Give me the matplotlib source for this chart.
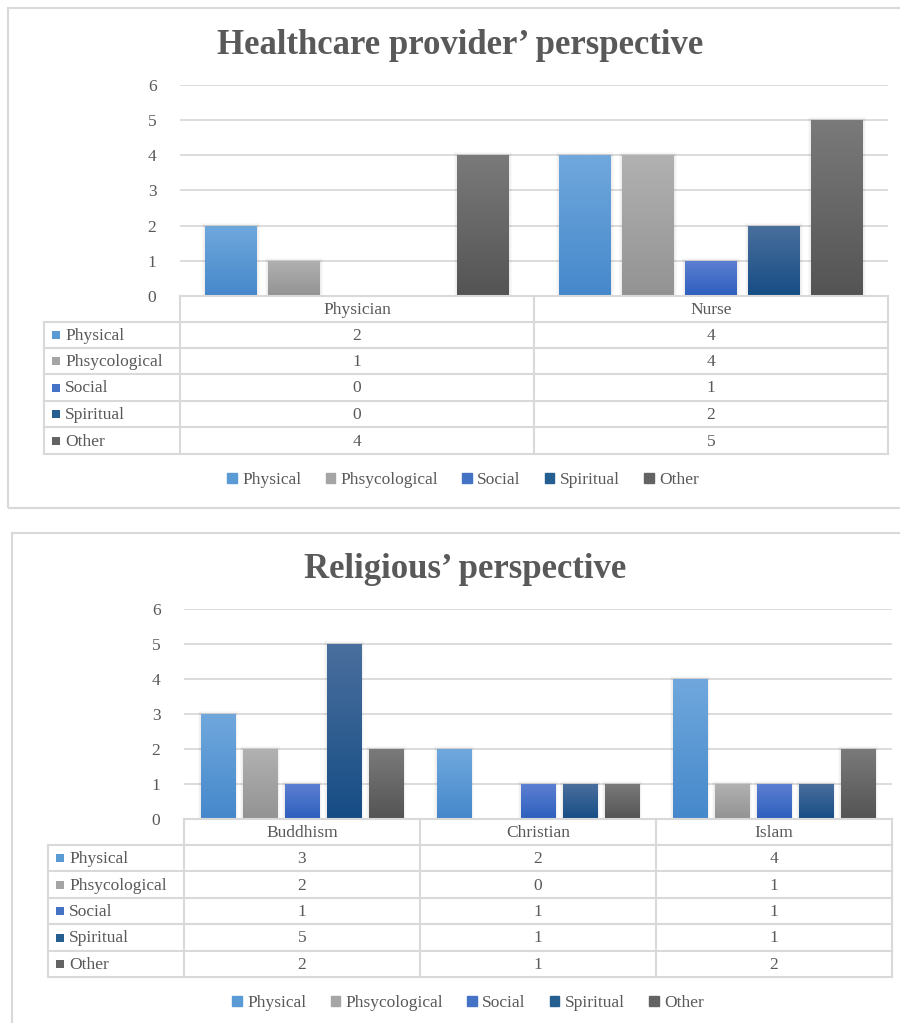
import matplotlib
matplotlib.use("Agg")
import matplotlib.pyplot as plt
import numpy as np
from matplotlib.patches import Rectangle, Patch
from matplotlib.lines import Line2D
from matplotlib.colors import LinearSegmentedColormap

plt.rcParams['font.family'] = ['Liberation Serif', 'DejaVu Serif']

series = ["Physical", "Phsycological", "Social", "Spiritual", "Other"]

providers = ["Physician", "Nurse"]
provider_physical = [2, 4]
provider_psych = [1, 4]
provider_social = [0, 1]
provider_spiritual = [0, 2]
provider_other = [4, 5]

religions = ["Buddhism", "Christian", "Islam"]
religion_physical = [3, 2, 4]
religion_psych = [2, 0, 1]
religion_social = [1, 1, 1]
religion_spiritual = [5, 1, 1]
religion_other = [2, 1, 2]

# flat colour (legend keys) and gradient ends (top, bottom) for each series
solid = ["#5b9bd5", "#a5a5a5", "#4472c4", "#255e91", "#636363"]
grad_top = ["#70a8dd", "#b1b1b1", "#5c80d2", "#4a6f9d", "#7a7a7a"]
grad_bot = ["#4588cb", "#939393", "#2e5ebe", "#164d85", "#545454"]

TEXT = "#595959"
GRID = "#d9d9d9"
BORDER = "#d9d9d9"
FS = 12.5

W, H = 900, 1023
fig = plt.figure(figsize=(9, 10.23), dpi=100)


def fx(x):
    return x / W


def fy(y):
    return 1 - y / H


def hline(x0, x1, y, lw=1.5):
    fig.add_artist(Line2D([fx(x0), fx(x1)], [fy(y), fy(y)], color=BORDER, lw=lw,
                          transform=fig.transFigure))


def vline(x, y0, y1, lw=1.5):
    fig.add_artist(Line2D([fx(x), fx(x)], [fy(y0), fy(y1)], color=BORDER, lw=lw,
                          transform=fig.transFigure))


def panel(title, cats, values, box, plot, label_left, rows, title_xy, legend_xy):
    bx0, by0, bx1, by1 = box
    fig.add_artist(Rectangle((fx(bx0), fy(by1)), fx(bx1 - bx0), (by1 - by0) / H,
                             fill=False, ec=BORDER, lw=1.5, transform=fig.transFigure))
    fig.text(fx(title_xy[0]), fy(title_xy[1]), title, ha='center', va='baseline',
             fontsize=25, fontweight='bold', color=TEXT)

    x0, y0, x1, y1 = plot
    ax = fig.add_axes([fx(x0), fy(y1), fx(x1 - x0), (y1 - y0) / H])
    n = len(cats)
    step, width = 0.178, 0.145
    pxx = n / (x1 - x0)
    pxy = 6 / (y1 - y0)
    for i, vals in enumerate(values):
        xs = np.arange(n) + (i - 2) * step
        bars = ax.bar(xs, vals, width, color=solid[i], zorder=3)
        cmap = LinearSegmentedColormap.from_list("g%d" % i, [grad_bot[i], grad_top[i]])
        for b in bars:
            h = b.get_height()
            if h <= 0:
                continue
            bx = b.get_x()
            # soft shadow around the bar
            for k in (1, 2, 3):
                ax.add_patch(Rectangle((bx - k * pxx, 0), width + 2 * k * pxx, h + k * pxy,
                                       color="black", alpha=0.025, lw=0, zorder=2.5))
            im = ax.imshow(np.linspace(0, 1, 100).reshape(-1, 1), cmap=cmap, origin='lower',
                           extent=(bx, bx + width, 0, h), aspect='auto', zorder=3.5)
            im.set_clip_path(b)
    ax.set_xlim(-0.5, n - 0.5)
    ax.set_ylim(0, 6)
    ax.set_yticks(range(7))
    ax.set_xticks([])
    ax.grid(axis='y', color=GRID, lw=1.3)
    ax.set_axisbelow(True)
    for s in ax.spines.values():
        s.set_visible(False)
    ax.tick_params(axis='y', length=0, pad=17, labelsize=FS, labelcolor=TEXT)
    ax.patch.set_alpha(0)

    # data table under the bars
    cols = [x0 + (x1 - x0) * k / n for k in range(n + 1)]
    hline(x0, x1, rows[0])
    for r in rows[1:]:
        hline(label_left, x1, r)
    vline(label_left, rows[1], rows[-1])
    for c in cols:
        vline(c, rows[0], rows[-1])
    for k, cat in enumerate(cats):
        fig.text(fx((cols[k] + cols[k + 1]) / 2), fy((rows[0] + rows[1]) / 2 + 1), cat,
                 ha='center', va='center', fontsize=FS, color=TEXT)
    for j, name in enumerate(series):
        ym = (rows[j + 1] + rows[j + 2]) / 2
        fig.add_artist(Rectangle((fx(label_left + 8), fy(ym + 4)), fx(8), 8 / H,
                                 color=solid[j], lw=0, transform=fig.transFigure))
        fig.text(fx(label_left + 21), fy(ym + 1), name, ha='left', va='center',
                 fontsize=FS, color=TEXT)
        for k in range(n):
            fig.text(fx((cols[k] + cols[k + 1]) / 2), fy(ym + 1), str(values[j][k]),
                     ha='center', va='center', fontsize=FS, color=TEXT)

    handles = [Patch(color=c, label=s) for c, s in zip(solid, series)]
    fig.legend(handles=handles, loc='center', bbox_to_anchor=(fx(legend_xy[0]), fy(legend_xy[1])),
               ncol=5, frameon=False, handlelength=0.55, handleheight=0.55, handletextpad=0.3,
               columnspacing=1.4, fontsize=FS, labelcolor=TEXT, borderpad=0)


panel("Healthcare provider\u2019 perspective", providers,
      [provider_physical, provider_psych, provider_social, provider_spiritual, provider_other],
      box=(8, 8, 920, 508), plot=(180, 85, 888, 296), label_left=44,
      rows=[296, 322, 348, 374, 401, 427, 454], title_xy=(460, 54), legend_xy=(463, 480))

panel("Religious\u2019 perspective", religions,
      [religion_physical, religion_psych, religion_social, religion_spiritual, religion_other],
      box=(12, 533, 920, 1040), plot=(184, 609, 892, 819), label_left=48,
      rows=[819, 845, 871, 898, 924, 951, 977], title_xy=(465, 578), legend_xy=(468, 1003))

fig.savefig("out.png", dpi=100)
